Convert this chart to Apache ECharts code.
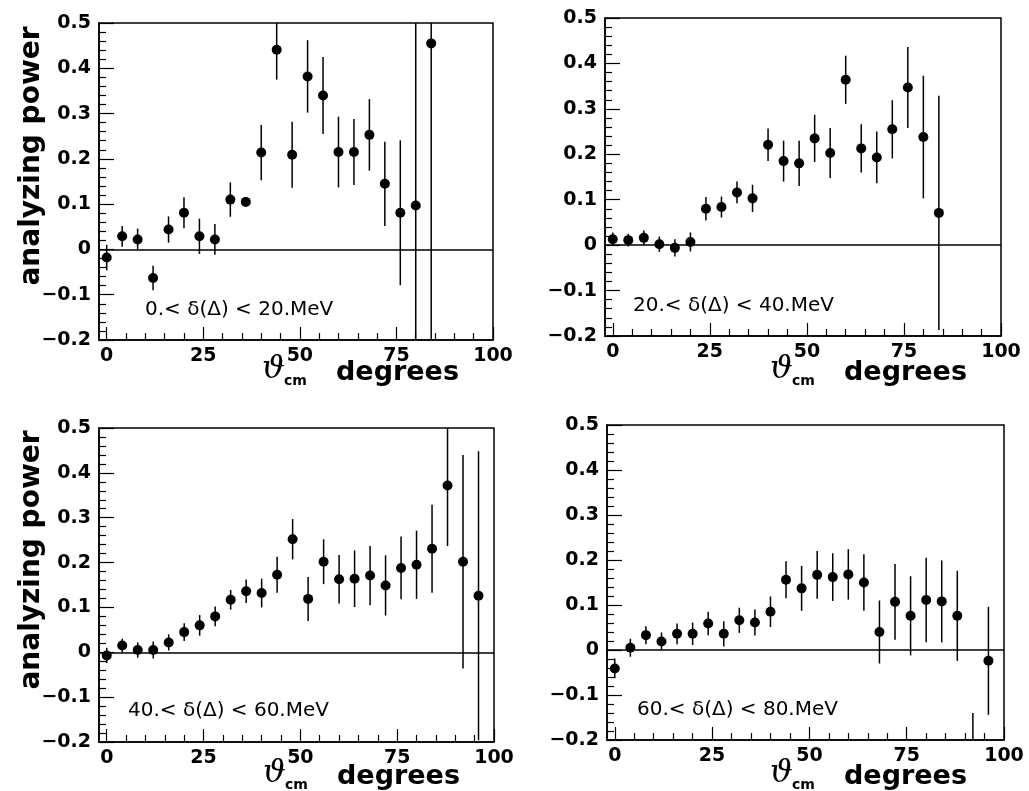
<!DOCTYPE html>
<html>
<head>
<meta charset="utf-8">
<script src="https://cdn.jsdelivr.net/npm/echarts@6/dist/echarts.min.js"></script>
<style>html,body{margin:0;padding:0;background:#fff}#c{width:1029px;height:791px}</style>
</head>
<body>
<div id="c"></div>
<script>
const anglesA = [0,4,8,12,16,20,24,28,32,36,40,44,48,52,56,60,64,68,72,76,80,84];
const anglesB = [0,4,8,12,16,20,24,28,32,36,40,44,48,52,56,60,64,68,72,76,80,84,88,92,96];

const p1Values = [-0.018,0.029,0.022,-0.063,0.044,0.081,0.029,0.022,0.110,0.105,0.214,0.441,0.209,0.382,0.340,0.215,0.215,0.253,0.145,0.081,0.097,0.455];
const p1Errors = [0.028,0.023,0.024,0.027,0.029,0.034,0.039,0.034,0.038,0.008,0.061,0.066,0.073,0.080,0.085,0.078,0.073,0.079,0.093,0.160,0.600,0.800];

const p2Values = [0.013,0.011,0.016,0.002,-0.006,0.007,0.080,0.084,0.116,0.103,0.221,0.185,0.180,0.235,0.203,0.364,0.213,0.193,0.255,0.347,0.238,0.071];
const p2Errors = [0.015,0.014,0.016,0.017,0.019,0.021,0.026,0.023,0.024,0.030,0.036,0.045,0.050,0.052,0.055,0.053,0.053,0.057,0.064,0.089,0.135,0.258];

const p3Values = [-0.007,0.015,0.005,0.005,0.022,0.045,0.060,0.080,0.117,0.136,0.132,0.173,0.252,0.119,0.202,0.163,0.164,0.171,0.149,0.188,0.195,0.231,0.372,0.202,0.126];
const p3Errors = [0.017,0.015,0.017,0.019,0.018,0.020,0.023,0.022,0.022,0.026,0.032,0.040,0.045,0.049,0.050,0.054,0.063,0.066,0.067,0.070,0.076,0.098,0.135,0.238,0.322];

const p4Values = [-0.041,0.005,0.033,0.019,0.036,0.036,0.059,0.036,0.066,0.061,0.085,0.156,0.137,0.167,0.162,0.168,0.150,0.040,0.107,0.076,0.111,0.108,0.076,-0.300,-0.024];
const p4Errors = [0.022,0.020,0.020,0.020,0.023,0.025,0.026,0.028,0.028,0.029,0.034,0.041,0.050,0.053,0.053,0.056,0.063,0.070,0.084,0.088,0.094,0.091,0.100,0.160,0.120];

const panelLabels = ['0.< δ(Δ) < 20.MeV','20.< δ(Δ) < 40.MeV','40.< δ(Δ) < 60.MeV','60.< δ(Δ) < 80.MeV'];
const xMajorTicks = [0,25,50,75,100];
const xMinorTicks = [5,10,15,20,30,35,40,45,55,60,65,70,80,85,90,95];
const yTitle = 'analyzing power';
const xTitleSymbol = 'ϑ';
const xTitleSub = 'cm';
const xTitleWord = 'degrees';

const panels = [
  {angles: anglesA, values: p1Values, errors: p1Errors},
  {angles: anglesA, values: p2Values, errors: p2Errors},
  {angles: anglesB, values: p3Values, errors: p3Errors},
  {angles: anglesB, values: p4Values, errors: p4Errors}
];

const YMIN = -0.2, YMAX = 0.5, XMIN = -2, XMAX = 100;
const gridBoxes = [
  {left: 99, top: 23, width: 394, height: 317},
  {left: 605, top: 18, width: 396, height: 318},
  {left: 99, top: 428, width: 395, height: 314},
  {left: 607, top: 425, width: 397, height: 315}
];
const labelPos = [[145,312],[633,308],[128,713],[637,712]];
const xTitlePos = [[262,386],[770,386],[263,790],[770,790]];
const yTitlePos = [[32,156],[32,560]];

const FONT = 'DejaVu Sans';

function fmtY(v){
  const r = Math.round(v*10)/10;
  if (Math.abs(r) < 1e-9) return '0';
  const s = Math.abs(r).toFixed(1);
  return (r < 0 ? '\u2212' : '') + s;
}

const grids = [], xAxes = [], yAxes = [], series = [], graphics = [];
panels.forEach((p, i) => {
  grids.push(Object.assign({show: true, borderColor: '#000', borderWidth: 1.5, backgroundColor: '#fff', containLabel: false}, gridBoxes[i]));
  xAxes.push({
    type: 'value', gridIndex: i, min: XMIN, max: XMAX, position: 'bottom',
    splitLine: {show: false},
    axisLine: {show: true, onZero: false, lineStyle: {color: '#000', width: 1.5}},
    axisTick: {show: true, inside: true, length: 13, customValues: xMajorTicks, lineStyle: {color: '#000', width: 1.2}},
    axisLabel: {show: true, customValues: xMajorTicks, margin: 7, color: '#000', fontFamily: FONT, fontWeight: 'bold', fontSize: 19}
  });
  xAxes.push({
    type: 'value', gridIndex: i, min: XMIN, max: XMAX, position: 'bottom',
    splitLine: {show: false},
    axisLine: {show: false, onZero: false},
    axisTick: {show: true, inside: true, length: 7, customValues: xMinorTicks, lineStyle: {color: '#000', width: 1.2}},
    axisLabel: {show: false}
  });
  yAxes.push({
    type: 'value', gridIndex: i, min: YMIN, max: YMAX, interval: 0.1,
    splitLine: {show: false},
    axisLine: {show: true, onZero: false, lineStyle: {color: '#000', width: 1.5}},
    axisTick: {show: true, inside: true, length: 15, lineStyle: {color: '#000', width: 1.2}},
    minorTick: {show: true, splitNumber: 5, length: 7, lineStyle: {color: '#000', width: 1.2}},
    axisLabel: {color: '#000', margin: 8, fontFamily: FONT, fontWeight: 'bold', fontSize: 19, formatter: fmtY}
  });
  const data = p.angles.map((a, k) => [a, p.values[k], p.errors[k]]);
  series.push({
    type: 'custom', xAxisIndex: 2*i, yAxisIndex: i, data: data, silent: true,
    encode: {x: 0, y: 1},
    renderItem: function(params, api){
      const x = api.value(0), y = api.value(1), e = api.value(2);
      const hi = Math.min(y + e, YMAX), lo = Math.max(y - e, YMIN);
      if (hi <= lo) return null;
      const a = api.coord([x, hi]), b = api.coord([x, lo]);
      return {type: 'line', shape: {x1: a[0], y1: a[1], x2: b[0], y2: b[1]}, style: {stroke: '#000', lineWidth: 1.5}};
    },
    z: 3
  });
  series.push({
    type: 'scatter', xAxisIndex: 2*i, yAxisIndex: i, data: data.map(d => [d[0], d[1]]),
    symbol: 'circle', symbolSize: 10, itemStyle: {color: '#000', opacity: 1}, clip: true, silent: true, z: 4,
    markLine: {silent: true, symbol: 'none', animation: false, label: {show: false},
      lineStyle: {color: '#000', type: 'solid', width: 1.5}, data: [{yAxis: 0}]}
  });
  graphics.push({type: 'text', left: labelPos[i][0], top: labelPos[i][1] - 12,
    style: {text: panelLabels[i], fill: '#000', font: '20px "DejaVu Sans"'}, z: 10});
  const [tx, ty] = xTitlePos[i];
  graphics.push({type: 'text', x: tx, y: ty, style: {text: xTitleSymbol, fill: '#000', font: 'italic 32px "DejaVu Serif"', textVerticalAlign: 'bottom'}, z: 10});
  graphics.push({type: 'text', x: tx + 22, y: ty + 2, style: {text: xTitleSub, fill: '#000', font: 'bold 14px "DejaVu Sans"', textVerticalAlign: 'bottom'}, z: 10});
  graphics.push({type: 'text', x: tx + 74, y: ty, style: {text: xTitleWord, fill: '#000', font: 'bold 27px "DejaVu Sans"', textVerticalAlign: 'bottom'}, z: 10});
});
yTitlePos.forEach(pos => {
  graphics.push({type: 'text', x: pos[0], y: pos[1], rotation: Math.PI/2,
    style: {text: yTitle, fill: '#000', font: 'bold 28px "DejaVu Sans"', textAlign: 'center', textVerticalAlign: 'middle'}, z: 10});
});

const chart = echarts.init(document.getElementById('c'), null, {renderer: 'canvas'});
chart.setOption({
  animation: false,
  backgroundColor: '#fff',
  grid: grids, xAxis: xAxes, yAxis: yAxes, series: series, graphic: graphics
});
</script>
</body>
</html>
